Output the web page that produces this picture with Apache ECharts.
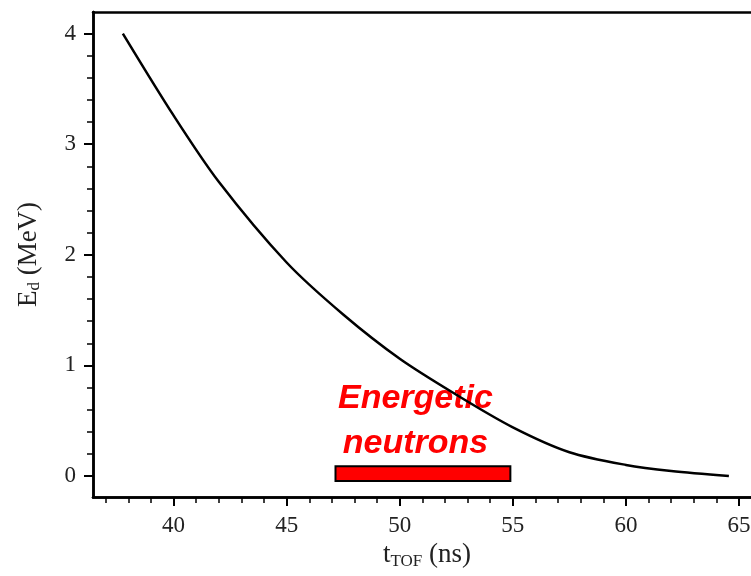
<!DOCTYPE html>
<html>
<head>
<meta charset="utf-8">
<script src="https://cdn.jsdelivr.net/npm/echarts@6/dist/echarts.min.js"></script>
<style>
  html, body { margin: 0; padding: 0; background: #fff; }
  #chart { width: 751px; height: 576px; }
</style>
</head>
<body>
<div id="chart"></div>
<script>
// values
const tofNs = [37.76, 40, 42, 45, 47.5, 50, 52.5, 55, 57.5, 60, 62, 64.55];
const energyMeV = [4.0, 3.26, 2.66, 1.93, 1.46, 1.06, 0.735, 0.44, 0.215, 0.1, 0.045, 0.0];
const xMajor = [40, 45, 50, 55, 60, 65];
const xMinor = [37, 38, 39, 41, 42, 43, 44, 46, 47, 48, 49, 51, 52, 53, 54, 56, 57, 58, 59, 61, 62, 63, 64, 66];
const yMajor = [0, 1, 2, 3, 4];
const yMinor = [0.2, 0.4, 0.6, 0.8, 1.2, 1.4, 1.6, 1.8, 2.2, 2.4, 2.6, 2.8, 3.2, 3.4, 3.6, 3.8];
const neutronBand = [47.16, 54.89];   // t range of the red bar
const neutronBandE = [-0.045, 0.088];

const chart = echarts.init(document.getElementById('chart'));
const serif = '"Liberation Serif", "DejaVu Serif", serif';
// the plot box runs past the right edge of the picture
const xr = [36.44, 66.5];
const yr = [-0.19, 4.195];

const baseX = {
    type: 'value', min: xr[0], max: xr[1], position: 'bottom',
    splitLine: { show: false },
    axisLine: { show: true, onZero: false, lineStyle: { color: '#000', width: 2.5 } }
};
const baseY = {
    type: 'value', min: yr[0], max: yr[1], position: 'left',
    splitLine: { show: false },
    axisLine: { show: true, onZero: false, lineStyle: { color: '#000', width: 2.5 } }
};

let option = {
    animation: false,
    grid: { left: 93, top: 12, width: 680, bottom: 79, outerBoundsMode: 'none', containLabel: false },
    xAxis: [
        Object.assign({}, baseX, {
            name: '{a|t}{b|TOF}{a| (ns)}',
            nameLocation: 'middle',
            nameGap: 41,
            nameTextStyle: {
                verticalAlign: 'top',
                padding: [0, 12, 0, 0],
                rich: {
                    a: { fontFamily: serif, fontSize: 27, color: '#222' },
                    b: { fontFamily: serif, fontSize: 17, color: '#222', padding: [12, 0, 0, 0] }
                }
            },
            axisTick: { show: true, customValues: xMajor, length: 9, lineStyle: { color: '#000', width: 2 } },
            axisLabel: { customValues: xMajor, margin: 17, fontFamily: serif, fontSize: 23, color: '#222' }
        }),
        Object.assign({}, baseX, {
            axisTick: { show: true, customValues: xMinor, length: 6, lineStyle: { color: '#000', width: 1.5 } },
            axisLabel: { show: false }
        }),
        Object.assign({}, baseX, {
            position: 'top',
            axisTick: { show: false },
            axisLabel: { show: false }
        })
    ],
    yAxis: [
        Object.assign({}, baseY, {
            name: '{a|E}{b|d}{a| (MeV)}',
            nameLocation: 'middle',
            nameGap: 50,
            nameRotate: 90,
            nameTextStyle: {
                rich: {
                    a: { fontFamily: serif, fontSize: 27, color: '#222' },
                    b: { fontFamily: serif, fontSize: 17, color: '#222', padding: [12, 0, 0, 0] }
                }
            },
            axisTick: { show: true, customValues: yMajor, length: 9, lineStyle: { color: '#000', width: 2 } },
            axisLabel: { customValues: yMajor, margin: 17, fontFamily: serif, fontSize: 23, color: '#222' }
        }),
        Object.assign({}, baseY, {
            axisTick: { show: true, customValues: yMinor, length: 6, lineStyle: { color: '#000', width: 1.5 } },
            axisLabel: { show: false }
        })
    ],
    graphic: [
        {
            type: 'text', left: 338, top: 376,
            style: {
                text: 'Energetic\nneutrons',
                align: 'center',
                fill: '#ff0000',
                font: 'italic bold 34px "Liberation Sans", Arial, sans-serif',
                lineHeight: 45,
                textAlign: 'center'
            }
        }
    ],
    series: [
        {
            type: 'line',
            smooth: 0.3,
            showSymbol: false,
            lineStyle: { color: '#000', width: 2.5 },
            data: tofNs.map((t, i) => [t, energyMeV[i]]),
            markArea: {
                silent: true,
                itemStyle: { color: '#ff0000', borderColor: '#000', borderWidth: 2 },
                data: [[
                    { xAxis: neutronBand[0], yAxis: neutronBandE[0] },
                    { xAxis: neutronBand[1], yAxis: neutronBandE[1] }
                ]]
            }
        }
    ]
};

chart.setOption(option);
</script>
</body>
</html>
